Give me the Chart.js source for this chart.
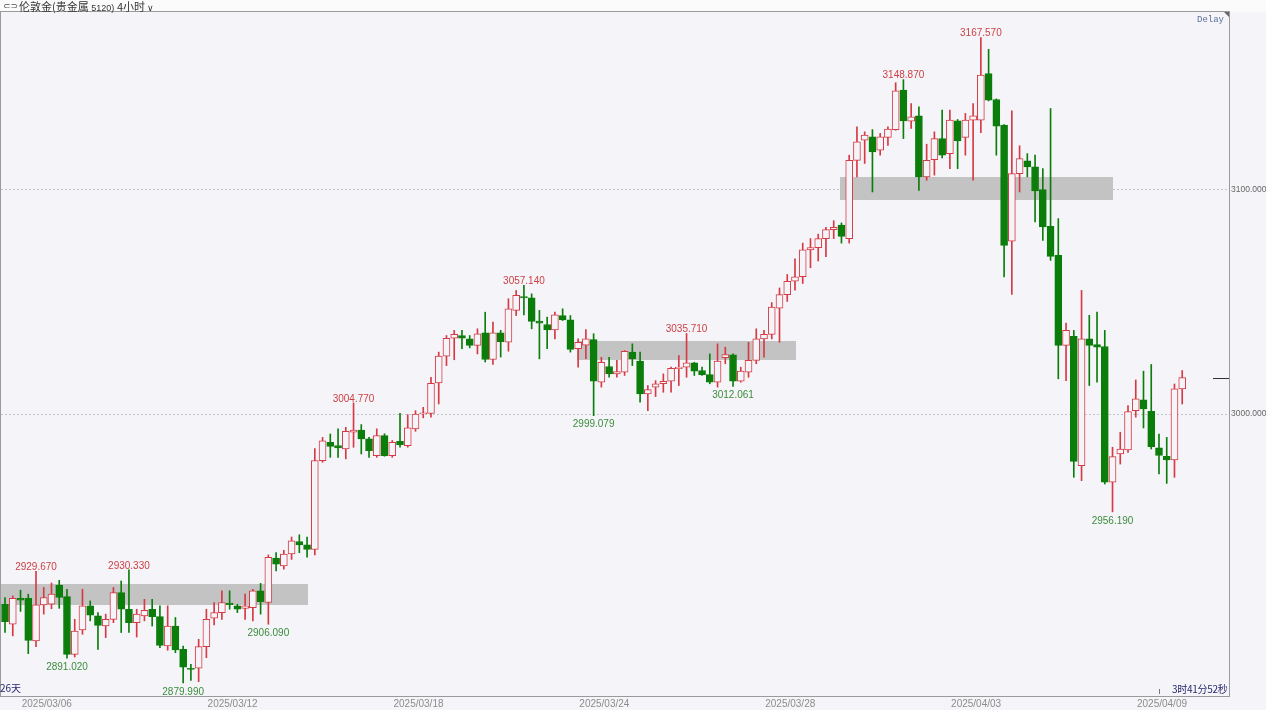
<!DOCTYPE html>
<html><head><meta charset="utf-8">
<script src="https://cdn.jsdelivr.net/npm/chart.js@4.4.1/dist/chart.umd.min.js"></script>
<style>
html,body{margin:0;padding:0;background:#f5f5f9;width:1266px;height:710px;overflow:hidden;font-family:"Liberation Sans",Arial,sans-serif}
#c{position:absolute;left:0;top:0}
.t{position:absolute;white-space:nowrap}
#hdr{position:absolute;left:0;top:0;width:1266px;height:12px;background:#fbfbfb}
</style></head><body>
<div id="hdr"></div>
<canvas id="c" width="1266" height="710"></canvas>
<div class="t" style="left:3px;top:0px;font:9px 'DejaVu Sans';color:#555;line-height:12px">⊂⊃</div>
<div class="t" style="left:19px;top:0px;font:11px 'Noto Sans CJK SC';color:#333;line-height:12px">伦敦金(贵金属<span style="font:9px 'Liberation Sans';"> 5120)</span></div>
<div class="t" style="left:117px;top:0px;font:11px 'Noto Sans CJK SC';color:#333;line-height:12px">4小时<span style="font:9px 'DejaVu Sans';margin-left:2px">∨</span></div>
<div class="t" style="left:1197px;top:15px;font:9px 'Liberation Mono';color:#5a6f9a;line-height:10px">Delay</div>
<div class="t" style="left:0px;top:682px;font:10px 'Noto Sans CJK SC';color:#2a2a6e;line-height:12px">26天</div>
<div class="t" style="left:1172px;top:683px;font:10px 'Noto Sans CJK SC';color:#2a2a6e;line-height:12px;letter-spacing:-0.3px">3时41分52秒</div>
<script>
// ---- data (4-hour candles, index = candle number) ----
const opens = [2915.0,2906.1,2917.7,2917.7,2898.7,2914.7,2915.0,2923.5,2918.4,2892.7,
2903.6,2914.3,2909.8,2905.3,2908.3,2920.2,2912.8,2906.8,2909.8,2912.8,
2909.5,2896.4,2905.3,2894.9,2886.5,2886.5,2896.1,2908.8,2911.3,2915.5,
2914.3,2913.2,2913.5,2921.0,2915.8,2935.6,2932.1,2937.4,2943.0,2941.5,
2939.5,2979.0,2987.2,2985.7,2984.2,2991.7,2992.7,2988.7,2981.2,2990.2,
2981.2,2987.6,2985.7,2993.2,2999.8,3000.1,3013.7,3025.6,3033.6,3034.8,
3033.3,3030.4,3036.0,3024.1,3036.0,3031.8,3046.0,3052.2,3051.6,3041.2,
3039.7,3037.3,3043.7,3041.8,3028.9,3030.5,3033.0,3014.0,3021.0,3017.7,
3018.5,3027.4,3023.4,3008.8,3011.8,3013.3,3014.4,3020.0,3020.7,3022.6,
3019.2,3017.4,3014.0,3024.9,3026.2,3014.4,3018.5,3023.7,3033.3,3035.3,
3047.0,3053.0,3059.0,3061.0,3073.0,3074.0,3078.0,3082.0,3084.0,3078.0,
3112.9,3121.9,3123.4,3117.4,3123.1,3126.6,3144.2,3130.4,3132.7,3105.5,
3113.2,3122.6,3115.9,3130.5,3123.1,3130.8,3130.8,3151.6,3140.0,3128.6,
3076.9,3107.0,3112.7,3110.0,3099.9,3083.5,3070.5,3030.4,3034.4,2976.8,
3033.3,3030.8,3029.9,2969.4,2982.0,2983.8,3001.3,3006.1,3001.0,2984.7,
2981.0,2979.3,3011.0];
const highs = [2918.0,2918.7,2921.3,2919.5,2929.67,2922.5,2924.5,2925.7,2921.7,2908.3,
2921.7,2916.5,2911.3,2910.6,2922.5,2925.4,2930.33,2912.8,2917.2,2917.2,
2914.3,2914.3,2909.1,2896.4,2888.2,2899.4,2912.8,2915.8,2921.0,2921.0,
2915.0,2919.5,2921.7,2924.3,2937.0,2938.0,2939.0,2945.0,2946.0,2945.0,
2984.4,2989.4,2990.9,2993.2,2993.9,3004.77,2995.1,2989.4,2993.2,2991.0,
2988.0,3000.1,2999.5,3001.3,3002.8,3016.2,3027.4,3034.8,3037.1,3037.1,
3034.8,3037.8,3045.2,3040.8,3037.1,3051.2,3054.9,3057.14,3053.4,3046.0,
3043.0,3045.2,3046.7,3043.7,3033.3,3037.5,3035.6,3025.1,3025.1,3023.7,
3028.1,3031.1,3027.4,3012.5,3014.7,3017.7,3020.7,3025.9,3035.71,3022.9,
3020.7,3026.6,3031.1,3029.6,3026.6,3020.7,3031.8,3037.8,3037.1,3049.5,
3056.0,3062.0,3069.0,3076.0,3078.0,3080.0,3083.0,3086.0,3085.0,3115.2,
3127.8,3125.6,3126.6,3124.9,3127.8,3147.5,3148.87,3138.2,3136.8,3120.1,
3125.6,3135.3,3135.3,3131.1,3133.8,3138.2,3167.57,3162.4,3140.3,3128.8,
3135.0,3119.4,3115.9,3115.2,3109.2,3136.0,3086.9,3040.3,3037.1,3054.9,
3043.8,3045.2,3037.1,2985.0,2991.7,3003.6,3015.0,3018.9,3021.9,2990.9,
2989.4,3013.2,3019.2];
const lows = [2902.4,2900.9,2911.8,2893.0,2896.1,2910.6,2913.0,2913.2,2891.02,2891.5,
2901.6,2907.6,2894.9,2900.1,2906.8,2902.4,2902.4,2900.4,2907.6,2905.3,
2895.7,2894.5,2893.4,2879.99,2881.0,2880.5,2891.2,2905.8,2908.3,2912.8,
2911.3,2908.3,2907.6,2910.6,2906.09,2929.9,2930.6,2935.0,2938.0,2936.0,
2937.0,2978.3,2980.5,2980.5,2979.8,2985.0,2982.0,2980.5,2980.5,2981.0,
2980.5,2985.0,2985.0,2992.1,2998.1,2998.4,3004.3,3021.4,3024.0,3028.9,
3029.3,3026.6,3023.0,3021.9,3025.2,3027.8,3043.7,3044.0,3037.8,3024.4,
3028.9,3033.3,3041.5,3027.4,3020.7,3024.5,2999.079,3011.8,3016.2,3016.2,
3017.0,3021.4,3005.1,3001.3,3007.6,3009.5,3009.5,3012.5,3016.2,3017.0,
3017.0,3013.3,3011.8,3022.2,3012.061,3014.0,3016.2,3022.2,3025.1,3033.3,
3031.8,3050.0,3055.0,3058.0,3065.0,3068.0,3070.0,3078.0,3076.0,3076.0,
3105.5,3111.5,3098.8,3115.2,3119.6,3126.3,3122.6,3127.1,3099.5,3104.0,
3106.3,3114.0,3109.2,3109.2,3115.2,3104.0,3125.2,3139.4,3115.2,3060.9,
3053.1,3098.8,3105.5,3085.4,3077.2,3068.3,3015.5,3014.7,2971.6,2970.1,
3012.5,3014.0,2968.6,2956.19,2977.5,2982.7,2998.4,2993.6,2984.2,2973.1,
2968.9,2971.6,3004.3];
const closes = [2907.3,2917.7,2916.8,2898.9,2914.7,2918.0,2919.5,2918.0,2892.7,2903.1,
2914.3,2910.1,2905.6,2908.3,2920.2,2912.8,2906.8,2910.6,2912.3,2909.5,
2896.7,2905.3,2894.6,2887.0,2886.0,2896.1,2908.3,2911.3,2915.8,2914.8,
2912.8,2914.3,2921.0,2916.2,2935.9,2932.9,2937.4,2943.3,2941.5,2939.5,
2979.0,2987.9,2985.4,2984.7,2992.1,2992.7,2988.7,2983.5,2990.2,2981.2,
2987.2,2986.2,2993.6,2999.8,3000.3,3013.5,3025.6,3033.6,3035.3,3033.6,
3030.4,3035.6,3024.1,3036.0,3032.1,3046.7,3052.7,3051.6,3041.1,3040.3,
3037.3,3044.0,3041.8,3028.6,3031.8,3033.3,3014.4,3022.9,3017.7,3018.7,
3027.8,3024.4,3008.8,3010.7,3013.3,3014.4,3020.2,3020.7,3022.6,3018.9,
3017.3,3014.0,3023.4,3026.3,3014.4,3018.9,3023.7,3033.3,3035.3,3047.5,
3053.0,3059.0,3061.0,3073.0,3074.0,3078.0,3082.0,3083.0,3079.0,3112.9,
3121.1,3124.1,3116.7,3123.4,3126.8,3143.9,3130.5,3132.3,3105.5,3112.9,
3122.6,3115.2,3130.8,3121.6,3130.8,3132.7,3150.9,3139.7,3128.1,3075.0,
3107.0,3113.7,3110.0,3099.3,3083.2,3070.1,3030.4,3037.1,2978.7,3033.3,
3030.4,3029.6,2969.4,2980.8,2984.2,3000.9,3006.6,3002.1,2985.3,2981.3,
2979.3,3011.0,3016.0];
const dateLabels = ['2025/03/06','2025/03/12','2025/03/18','2025/03/24','2025/03/28','2025/04/03','2025/04/09'];
const dateTickIdx = [5,29,53,77,101,125,149];
const yTicks = [3000,3100];
const highMarks = [4,16,45,67,88,116,126];
const lowMarks = [8,23,34,76,94,143];
const zoneStart = [-1,73.85,107.8];
const zoneEnd = [39.1,102.1,143.05];
const zoneTop = [2924.1,3032.3,3105.5];
const zoneBottom = [2914.7,3023.7,3095.1];

const X_MIN = -0.52, X_MAX = 158.04, Y_MIN = 2874.11, Y_MAX = 3179.02;
const BG = '#f5f5f9', RED = '#d63a44', GREEN = '#0a7d0a';
const idx = opens.map((_, i) => i);
const isUp = i => closes[i] >= opens[i];

const decor = {
  id: 'decor',
  beforeDatasetsDraw(chart) {
    const {ctx, chartArea: a, scales: {x, y}} = chart;
    ctx.save();
    ctx.strokeStyle = '#c4c4cc'; ctx.lineWidth = 1; ctx.setLineDash([2, 2]);
    yTicks.forEach(v => {
      const py = Math.round(y.getPixelForValue(v)) + 0.5;
      ctx.beginPath(); ctx.moveTo(a.left, py); ctx.lineTo(a.right, py); ctx.stroke();
    });
    ctx.setLineDash([]);
    ctx.beginPath(); ctx.rect(a.left, a.top, a.right - a.left, a.bottom - a.top); ctx.clip();
    ctx.fillStyle = '#c3c3c3';
    zoneStart.forEach((s, k) => {
      const x1 = Math.round(x.getPixelForValue(s)), x2 = Math.round(x.getPixelForValue(zoneEnd[k]));
      const y1 = Math.round(y.getPixelForValue(zoneTop[k])), y2 = Math.round(y.getPixelForValue(zoneBottom[k]));
      ctx.fillRect(x1, y1, x2 - x1, y2 - y1);
    });
    ctx.restore();
  },
  afterDatasetsDraw(chart) {
    const {ctx, chartArea: a, scales: {x, y}} = chart;
    ctx.save();
    ctx.font = '10px "Liberation Sans"';
    ctx.textAlign = 'center';
    ctx.fillStyle = '#cc3f44'; ctx.textBaseline = 'bottom';
    highMarks.forEach(i => ctx.fillText(highs[i].toFixed(3), x.getPixelForValue(i), y.getPixelForValue(highs[i]) + 1));
    ctx.fillStyle = '#3b8c3b'; ctx.textBaseline = 'top';
    lowMarks.forEach(i => ctx.fillText(lows[i].toFixed(3), x.getPixelForValue(i), y.getPixelForValue(lows[i]) + 4));
    // frame
    ctx.strokeStyle = '#9a9a9a'; ctx.lineWidth = 1;
    ctx.strokeRect(a.left - 0.5, a.top - 0.5, a.right - a.left + 1, a.bottom - a.top + 1);
    // corner mark
    ctx.fillStyle = '#666';
    ctx.beginPath(); ctx.moveTo(a.right - 5, a.top); ctx.lineTo(a.right, a.top); ctx.lineTo(a.right, a.top + 5); ctx.closePath(); ctx.fill();
    // last price marker
    const lp = Math.round(y.getPixelForValue(closes[closes.length - 1])) + 0.5;
    ctx.strokeStyle = '#333';
    ctx.beginPath(); ctx.moveTo(a.right - 16, lp); ctx.lineTo(a.right, lp); ctx.stroke();
    // small time tick
    const tx = Math.round(x.getPixelForValue(dateTickIdx[dateTickIdx.length - 1])) + 0.5;
    ctx.strokeStyle = '#777';
    ctx.beginPath(); ctx.moveTo(tx, a.bottom - 7); ctx.lineTo(tx, a.bottom - 2); ctx.stroke();
    ctx.restore();
  }
};

new Chart(document.getElementById('c'), {
  type: 'bar',
  data: {
    datasets: [
      {
        label: 'body',
        data: idx.map(i => ({x: i, y: [opens[i], closes[i]]})),
        backgroundColor: c => isUp(c.dataIndex) ? BG : GREEN,
        borderColor: c => isUp(c.dataIndex) ? RED : GREEN,
        borderWidth: 1, borderSkipped: false, barThickness: 7, minBarLength: 1, grouped: false
      },
      {
        label: 'wick',
        data: idx.map(i => ({x: i, y: [lows[i], highs[i]]})),
        backgroundColor: c => isUp(c.dataIndex) ? RED : GREEN,
        borderWidth: 0, barThickness: 1, grouped: false
      }
    ]
  },
  options: {
    animation: false, responsive: false, maintainAspectRatio: false,
    layout: {padding: {top: 12, left: 1, right: 0, bottom: 0}},
    plugins: {legend: {display: false}, tooltip: {enabled: false}},
    scales: {
      x: {
        type: 'linear', min: X_MIN, max: X_MAX, offset: false,
        grid: {display: false, drawTicks: false}, border: {display: false},
        afterBuildTicks: s => { s.ticks = dateTickIdx.map(v => ({value: v})); },
        afterFit: s => { s.height = 14; },
        ticks: {
          autoSkip: false, maxRotation: 0, padding: 2, labelOffset: 3,
          font: {size: 10, family: 'Liberation Sans'}, color: '#8c8c8c',
          callback: v => dateLabels[dateTickIdx.indexOf(v)]
        }
      },
      y: {
        position: 'right', min: Y_MIN, max: Y_MAX,
        grid: {display: false, drawTicks: false}, border: {display: false},
        afterBuildTicks: s => { s.ticks = yTicks.map(v => ({value: v})); },
        afterFit: s => { s.width = 37; },
        ticks: {
          padding: 2, font: {size: 8.5, family: 'Liberation Sans'}, color: '#666',
          callback: v => v.toFixed(3)
        }
      }
    }
  },
  plugins: [decor]
});
</script>
</body></html>
